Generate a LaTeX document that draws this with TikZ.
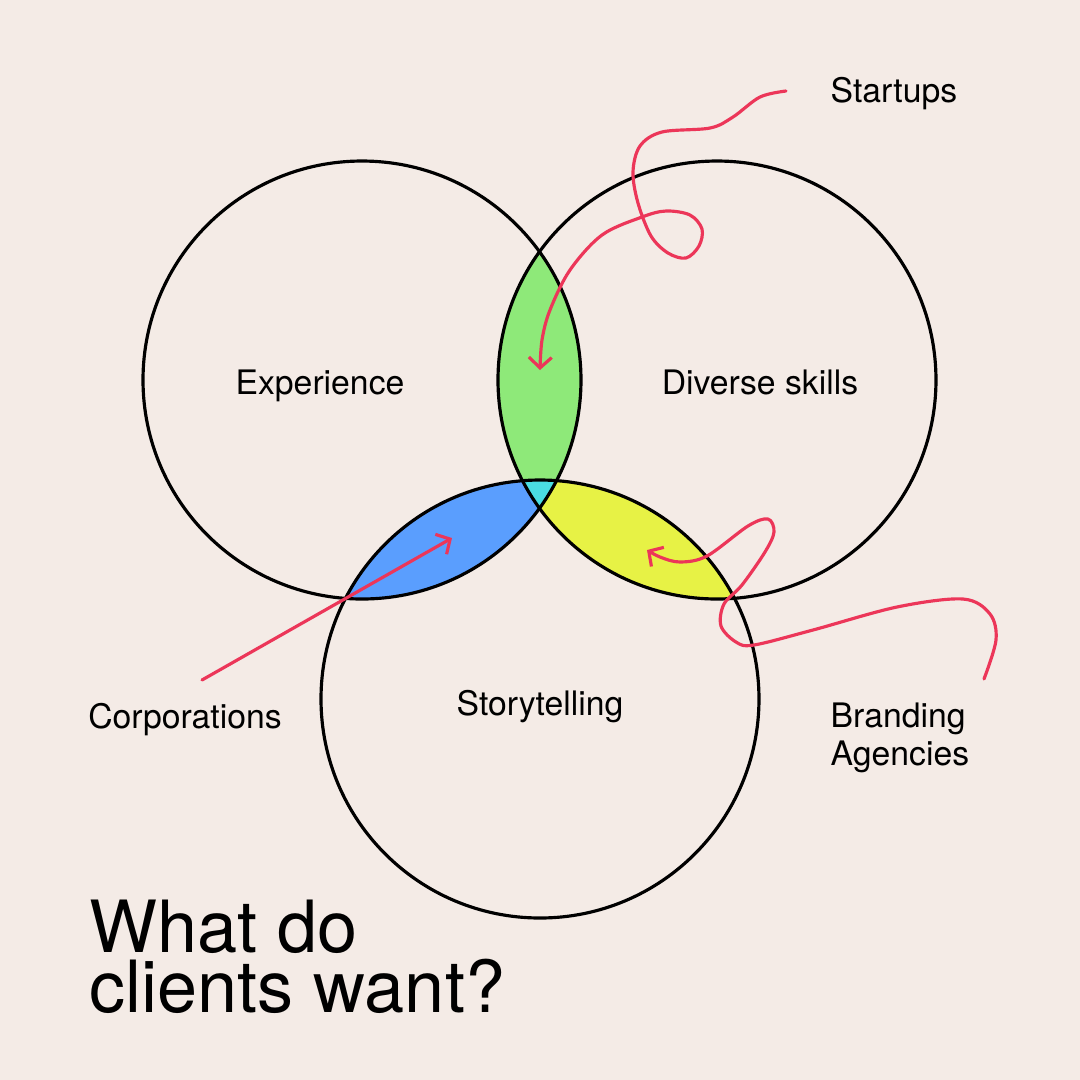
\documentclass[tikz,border=0pt]{standalone}
\usepackage{fontspec}
\setmainfont{TeX Gyre Heros}
\usetikzlibrary{arrows.meta}
\definecolor{paper}{HTML}{F4EBE6}
\definecolor{lensgreen}{HTML}{8EE979}
\definecolor{lensblue}{HTML}{5A9EFE}
\definecolor{lensyellow}{HTML}{E7F245}
\definecolor{lenscyan}{HTML}{4ADDE2}
\definecolor{scribblered}{HTML}{EC3659}

\begin{document}
\begin{tikzpicture}[x=0.1mm, y=-0.1mm, font=\fontsize{9.6}{10.8}\selectfont,
    ring/.style={draw=black, line width=0.9pt},
    pointer/.style={draw=scribblered, line width=0.9pt, line cap=round, line join=round,
      -{Straight Barb[length=3pt, width=6.5pt, line width=0.9pt]}},
    tag/.style={inner sep=0pt, anchor=base},
    headline/.style={inner sep=0pt, anchor=base west, font=\fontsize{20.5}{18}\selectfont}]

    % Hintergrund
    \fill[paper] (0,0) rectangle (1080,1080);
    \useasboundingbox (0,0) rectangle (1080,1080);

    % Kreismittelpunkte
    \def\rad{219}
    \coordinate (expC) at (362,380);
    \coordinate (divC) at (717,380);
    \coordinate (stoC) at (540,699);

    % Schnittflaechen
    \begin{scope}
        \clip (expC) circle (\rad);
        \fill[lensgreen] (divC) circle (\rad);
        \fill[lensblue] (stoC) circle (\rad);
    \end{scope}
    \begin{scope}
        \clip (divC) circle (\rad);
        \fill[lensyellow] (stoC) circle (\rad);
    \end{scope}
    \begin{scope}
        \clip (expC) circle (\rad);
        \clip (divC) circle (\rad);
        \fill[lenscyan] (stoC) circle (\rad);
    \end{scope}

    % Kreise
    \foreach \c in {expC, divC, stoC} {
        \draw[ring] (\c) circle (\rad);
    }

    % Beschriftungen
    \node[tag] (experience) at (320,394) {Experience};
    \node[tag] (diverse) at (760,394) {Diverse skills};
    \node[tag] (story) at (540,715) {Storytelling};
    \node[tag] (corp) at (185,728) {Corporations};
    \node[tag, anchor=base west] (startups) at (830,102) {Startups};
    \node[tag, anchor=base west, align=left] (branding) at (830,765) {Branding\\Agencies};

    % Titel
    \node[headline] (titleA) at (89,952) {What do};
    \node[headline] (titleB) at (89,1012) {clients want?};

    % Pfeile
    \coordinate (corpTail) at (202,680);
    \coordinate (corpHead) at (452,538);
    \draw[pointer] (corpTail) -- (corpHead);

    \draw[pointer] plot[smooth, tension=0.55] coordinates {
        (786,91) (760,97) (733,117) (710,128) (662,132) (640,146) (633,172) (638,203)
        (651,236) (668,253) (686,258) (699,246) (702,229) (690,215) (666,211) (642,217)
        (602,235) (570,270) (550,310) (542,340) (540,370)};

    \draw[pointer] plot[smooth, tension=0.55] coordinates {
        (984,679) (996,640) (990,614) (963,599) (897,607) (813,630) (754,645) (736,642)
        (721,626) (724,604) (742,585) (765,552) (774,532) (768,519) (748,526) (707,556)
        (680,562) (660,557) (647,550)};
\end{tikzpicture}
\end{document}
